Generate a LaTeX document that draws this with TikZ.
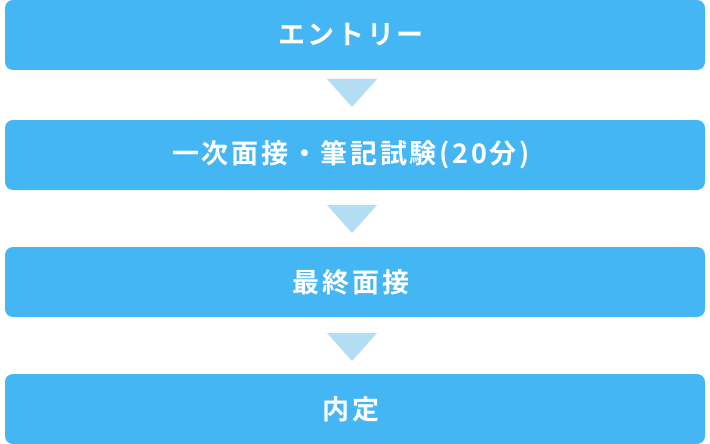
\documentclass[tikz,border=0pt]{standalone}
\usepackage{fontspec}
\newfontfamily\jpfont[LetterSpace=10,BoldFont={Noto Sans CJK JP Bold}]{Noto Sans CJK JP}
\definecolor{boxblue}{HTML}{45B6F4}
\definecolor{arrowblue}{HTML}{B3DDF3}
\begin{document}
\begin{tikzpicture}[x=1pt,y=-1pt,
  stepbox/.style={fill=boxblue,rounded corners=8pt,minimum width=700pt,minimum height=70pt,inner sep=0pt,text=white,font=\jpfont\bfseries\fontsize{27}{27}\selectfont,execute at end node={\hspace*{8pt}}},
  downtri/.style={fill=arrowblue}]
\useasboundingbox (0,0) rectangle (710,444);
\node[stepbox] (b1) at (355,35) {エントリー};
\node[stepbox] (b2) at (355,155) {一次面接・筆記試験(20分)};
\node[stepbox] (b3) at (355,282) {最終面接};
\node[stepbox] (b4) at (355,409) {内定};
\foreach \y in {79,205,333}{
  \fill[downtri] (327,\y) -- (377,\y) -- (352,\y+28) -- cycle;
}
\end{tikzpicture}
\end{document}
